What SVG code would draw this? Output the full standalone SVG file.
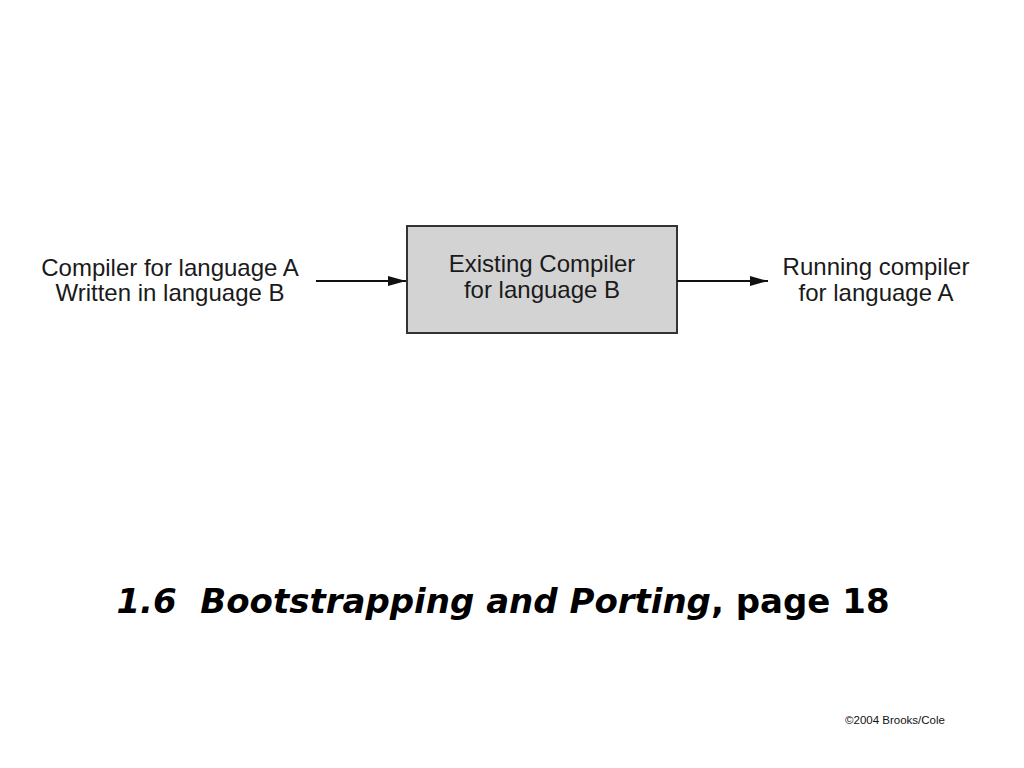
<svg xmlns="http://www.w3.org/2000/svg" width="1024" height="768" viewBox="0 0 1024 768">
<defs>
<style>
.lbl{font-family:"Liberation Sans",Arial,sans-serif;font-size:24px;fill:#1a1a1a;text-anchor:middle}
.conn{stroke:#111;stroke-width:2.2;fill:none}
</style>
<marker id="ah" viewBox="0 0 18 10" refX="18" refY="5" markerWidth="18" markerHeight="10" markerUnits="userSpaceOnUse" orient="auto">
<path d="M0,0 L18,5 L0,10 Z" fill="#111"/>
</marker>
</defs>
<rect width="1024" height="768" fill="#fff"/>
<g id="source">
<text class="lbl" x="170" y="276">Compiler for language A</text>
<text class="lbl" x="170" y="301">Written in language B</text>
</g>
<g id="compiler">
<rect x="407" y="226" width="270" height="107" fill="#d3d3d3" stroke="#333" stroke-width="2"/>
<text class="lbl" x="542" y="272">Existing Compiler</text>
<text class="lbl" x="542" y="298">for language B</text>
</g>
<g id="result">
<text class="lbl" x="876" y="275">Running compiler</text>
<text class="lbl" x="876" y="301">for language A</text>
</g>
<g id="connectors">
<line class="conn" x1="316" y1="281" x2="406" y2="281" marker-end="url(#ah)"/>
<line class="conn" x1="677" y1="281" x2="768" y2="281" marker-end="url(#ah)"/>
</g>
<g id="caption">
<text x="503" y="613" xml:space="preserve" font-family="'DejaVu Sans',Verdana,sans-serif" font-size="34" font-weight="bold" text-anchor="middle" fill="#000"><tspan font-style="italic">1.6  Bootstrapping and Porting</tspan>, page 18</text>
<text x="895" y="724" font-family="'Liberation Sans',Arial,sans-serif" font-size="11.5" text-anchor="middle" fill="#111">©2004 Brooks/Cole</text>
</g>
</svg>
